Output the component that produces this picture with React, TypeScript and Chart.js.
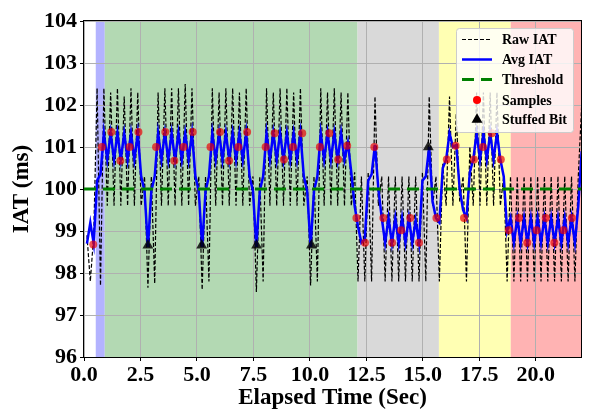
import React, { useEffect, useRef } from "react";
import { Chart, registerables } from "chart.js";

Chart.register(...registerables);

const FONT = '"Liberation Serif", "Times New Roman", Times, serif';
const W = 598;
const H = 414;

// sampling grid of the two traces (seconds)
const TRACE_T0 = 0.13;
const TRACE_DT = 0.15;

const RAW_IAT = [
  98.9, 97.8, 98.9, 102.4, 97.7, 102.4, 99.6, 102.3, 99.6, 102.4,
  99.6, 102.2, 99.6, 102.4, 99.6, 102.3, 99.6, 100.3, 97.65, 100.3,
  97.75, 102.3, 99.6, 102.4, 99.6, 102.4, 99.6, 102.4, 99.6, 102.5,
  99.6, 102.4, 99.6, 100.3, 97.6, 100.3, 97.8, 102.4, 99.6, 102.3,
  99.6, 102.4, 99.6, 102.4, 99.6, 102.3, 99.6, 102.4, 99.6, 100.3,
  97.55, 100.3, 97.8, 102.4, 99.6, 102.3, 99.6, 102.4, 99.6, 102.4,
  99.6, 102.3, 99.6, 102.4, 99.6, 100.3, 97.7, 100.3, 97.8, 102.4,
  99.6, 102.3, 99.6, 102.4, 99.6, 102.3, 99.6, 102.3, 99.6, 100.4,
  97.8, 100.3, 97.8, 100.4, 97.8, 102.2, 99.6, 100.3, 97.8, 100.3,
  97.8, 100.3, 97.8, 100.3, 97.8, 100.3, 97.8, 100.3, 97.8, 100.4,
  97.8, 102.2, 99.6, 100.3, 97.8, 100.6, 99.6, 102.2, 99.6, 101.8,
  99.7, 100.3, 97.8, 101.0, 99.6, 102.3, 99.6, 102.3, 99.6, 102.3,
  99.6, 102.3, 99.6, 100.3, 97.8, 100.3, 97.8, 100.3, 97.8, 100.3,
  97.8, 100.3, 97.8, 100.3, 97.8, 100.3, 97.8, 100.3, 97.8, 100.3,
  97.8, 100.3, 97.8, 100.3, 97.8, 100.3, 102.0,
];

const AVG_IAT = [
  98.7, 99.2, 98.7, 100.2, 100.35, 101.33, 100.7, 101.33, 100.7, 101.33,
  100.7, 101.33, 100.7, 101.33, 100.7, 101.33, 100.3, 99.95, 98.62, 99.95,
  100.3, 101.33, 100.7, 101.33, 100.7, 101.33, 100.7, 101.33, 100.7, 101.33,
  100.7, 101.33, 100.3, 99.95, 98.62, 99.95, 100.3, 101.33, 100.7, 101.33,
  100.7, 101.33, 100.7, 101.33, 100.7, 101.33, 100.7, 101.33, 100.3, 99.95,
  98.62, 99.95, 100.3, 101.33, 100.7, 101.33, 100.7, 101.33, 100.7, 101.33,
  100.7, 101.33, 100.7, 101.33, 100.3, 99.95, 98.62, 99.95, 100.3, 101.33,
  100.7, 101.33, 100.7, 101.33, 100.7, 101.33, 100.7, 101.1, 100.4, 99.6,
  99.1, 98.72, 98.8, 100.2, 100.35, 101.05, 100.0, 99.31, 98.72, 99.31,
  98.72, 99.31, 98.72, 99.31, 98.72, 99.31, 98.72, 99.25, 98.72, 100.2,
  100.3, 101.0, 99.7, 99.31, 99.2, 100.5, 100.7, 101.33, 101.0, 101.05,
  100.0, 99.5, 99.3, 100.4, 100.7, 101.33, 100.7, 101.33, 100.7, 101.33,
  100.7, 101.33, 100.7, 100.3, 99.0, 99.31, 98.72, 99.31, 98.72, 99.31,
  98.72, 99.31, 98.72, 99.31, 98.72, 99.31, 98.72, 99.31, 98.72, 99.31,
  98.72, 99.31, 98.72, 99.31, 98.72, 99.6, 100.9,
];

const THRESHOLD = 100;

const SAMPLE_T = [
  0.41, 0.79, 1.21, 1.61, 2.02, 2.41, 3.19, 3.6, 4.0, 4.4, 4.81, 5.6, 6.02,
  6.42, 6.83, 7.22, 8.04, 8.44, 8.85, 9.25, 9.66, 10.44, 10.86, 11.25, 11.65,
  12.06, 12.44, 12.85, 13.25, 13.64, 14.04, 14.44, 14.83, 15.6, 16.06, 16.45,
  16.82, 17.26, 17.66, 18.05, 18.45, 18.8, 19.25, 19.62, 20.03, 20.44, 20.82,
  21.22, 21.6,
];
const SAMPLE_V = [
  98.68, 101.0, 101.36, 100.67, 101.0, 101.36, 101.0, 101.36, 100.67, 101.0,
  101.36, 101.0, 101.36, 100.67, 101.0, 101.36, 101.0, 101.33, 100.7, 101.0,
  101.33, 101.0, 101.33, 100.7, 101.03, 99.31, 98.72, 101.0, 99.31, 98.72,
  99.02, 99.31, 98.72, 99.31, 100.7, 101.03, 99.31, 100.7, 101.0, 101.33,
  100.7, 99.02, 99.31, 98.72, 99.02, 99.31, 98.72, 99.02, 99.31,
];

const STUFFED_T = [2.83, 5.21, 7.64, 10.07, 15.24];
const STUFFED_V = [98.66, 98.66, 98.66, 98.66, 101.0];

const BAND_START = [0.52, 0.92, 12.11, 15.71, 18.89];
const BAND_END = [0.92, 12.11, 15.71, 18.89, 22];
const BAND_COLOR = ["#b3b3ff", "#b3d9b3", "#d9d9d9", "#ffffb3", "#ffb3b3"];

const X_MIN = 0;
const X_MAX = 22;
const X_STEP = 2.5;
const Y_MIN = 96;
const Y_MAX = 104;
const Y_STEP = 1;

const bandsPlugin = {
  id: "bands",
  beforeDraw(chart: any) {
    const { ctx, chartArea, scales } = chart;
    ctx.save();
    for (let i = 0; i < BAND_START.length; i++) {
      const x0 = scales.x.getPixelForValue(BAND_START[i]);
      const x1 = scales.x.getPixelForValue(BAND_END[i]);
      ctx.fillStyle = BAND_COLOR[i];
      ctx.fillRect(x0, chartArea.top, x1 - x0, chartArea.bottom - chartArea.top);
    }
    ctx.restore();
  },
};

const framePlugin = {
  id: "frame",
  afterDatasetsDraw(chart: any) {
    const { ctx, chartArea } = chart;
    ctx.save();
    ctx.strokeStyle = "#000";
    ctx.lineWidth = 1;
    ctx.setLineDash([]);
    ctx.strokeRect(
      Math.round(chartArea.left) - 0.5,
      Math.round(chartArea.top) - 0.5,
      Math.round(chartArea.right - chartArea.left) + 1,
      Math.round(chartArea.bottom - chartArea.top) + 1
    );
    ctx.restore();
  },
};

const legendPlugin = {
  id: "customLegend",
  afterDraw(chart: any) {
    const { ctx } = chart;
    const bx = 456.5, by = 28.5, bw = 117, bh = 104, r = 3;
    ctx.save();
    ctx.beginPath();
    ctx.moveTo(bx + r, by);
    ctx.lineTo(bx + bw - r, by);
    ctx.quadraticCurveTo(bx + bw, by, bx + bw, by + r);
    ctx.lineTo(bx + bw, by + bh - r);
    ctx.quadraticCurveTo(bx + bw, by + bh, bx + bw - r, by + bh);
    ctx.lineTo(bx + r, by + bh);
    ctx.quadraticCurveTo(bx, by + bh, bx, by + bh - r);
    ctx.lineTo(bx, by + r);
    ctx.quadraticCurveTo(bx, by, bx + r, by);
    ctx.closePath();
    ctx.fillStyle = "rgba(255,255,255,0.8)";
    ctx.fill();
    ctx.strokeStyle = "#cccccc";
    ctx.lineWidth = 1;
    ctx.stroke();

    const rows = [39.5, 59.5, 79.5, 100, 119.5];
    const lx0 = 462, lx1 = 492, mx = 477, tx = 502;
    chart.data.datasets.forEach((ds: any, i: number) => {
      const y = rows[i];
      if (ds.showLine === false) {
        ctx.fillStyle = ds.legendColor || ds.pointBackgroundColor;
        ctx.beginPath();
        if (ds.pointStyle === "triangle") {
          const rad = ds.pointRadius;
          for (let k = 0; k < 3; k++) {
            const a = (k * 2 * Math.PI) / 3;
            const px = mx + Math.sin(a) * rad;
            const py = y - Math.cos(a) * rad;
            if (k === 0) ctx.moveTo(px, py);
            else ctx.lineTo(px, py);
          }
          ctx.closePath();
        } else {
          ctx.arc(mx, y, ds.pointRadius, 0, Math.PI * 2);
        }
        ctx.fill();
      } else {
        ctx.beginPath();
        ctx.setLineDash(ds.borderDash || []);
        ctx.strokeStyle = ds.borderColor;
        ctx.lineWidth = ds.borderWidth;
        ctx.moveTo(lx0, y);
        ctx.lineTo(lx1, y);
        ctx.stroke();
        ctx.setLineDash([]);
      }
      ctx.fillStyle = "#000";
      ctx.font = `bold 14px ${FONT}`;
      ctx.textBaseline = "middle";
      ctx.textAlign = "left";
      ctx.fillText(ds.label, tx, y + 1);
    });
    ctx.restore();
  },
};

function trace(values: number[]) {
  return values.map((v, i) => ({ x: TRACE_T0 + i * TRACE_DT, y: v }));
}

export default function App() {
  const canvasRef = useRef<HTMLCanvasElement | null>(null);

  useEffect(() => {
    const canvas = canvasRef.current;
    if (!canvas) return;
    const tickFont = { family: FONT, size: 22, weight: "bold" as const };
    const titleFont = { family: FONT, size: 23, weight: "bold" as const };
    const chart = new Chart(canvas, {
      type: "line",
      data: {
        datasets: [
          {
            label: "Raw IAT",
            data: trace(RAW_IAT),
            borderColor: "#000000",
            borderWidth: 1.2,
            borderDash: [4, 2],
            pointRadius: 0,
            tension: 0,
            fill: false,
            order: 5,
          },
          {
            label: "Avg IAT",
            data: trace(AVG_IAT),
            borderColor: "#0000ff",
            borderWidth: 2.5,
            pointRadius: 0,
            tension: 0,
            fill: false,
            order: 4,
          },
          {
            label: "Threshold",
            data: [
              { x: X_MIN, y: THRESHOLD },
              { x: X_MAX, y: THRESHOLD },
            ],
            borderColor: "#008000",
            borderWidth: 3,
            borderDash: [12, 7],
            pointRadius: 0,
            fill: false,
            order: 3,
          },
          {
            label: "Samples",
            data: SAMPLE_T.map((t, i) => ({ x: t, y: SAMPLE_V[i] })),
            showLine: false,
            pointRadius: 4,
            pointStyle: "circle",
            pointBackgroundColor: "rgba(235,0,0,0.68)",
            legendColor: "#ff0000",
            pointBorderColor: "rgba(0,0,0,0)",
            pointBorderWidth: 0,
            order: 2,
          },
          {
            label: "Stuffed Bit",
            data: STUFFED_T.map((t, i) => ({ x: t, y: STUFFED_V[i] })),
            showLine: false,
            pointRadius: 6.3,
            pointStyle: "triangle",
            pointBackgroundColor: "rgba(0,0,0,0.82)",
            legendColor: "#000000",
            pointBorderColor: "rgba(0,0,0,0)",
            pointBorderWidth: 0,
            order: 1,
          },
        ] as any,
      },
      options: {
        animation: false,
        responsive: false,
        devicePixelRatio: 1,
        events: [],
        layout: { padding: { left: 0, right: 17, top: 21, bottom: 0 } },
        plugins: {
          legend: { display: false },
          tooltip: { enabled: false },
        },
        scales: {
          x: {
            type: "linear",
            min: X_MIN,
            max: X_MAX,
            afterBuildTicks: (scale: any) => {
              scale.ticks = scale.ticks.filter(
                (t: any) => Math.abs(t.value / X_STEP - Math.round(t.value / X_STEP)) < 1e-6
              );
            },
            afterFit: (scale: any) => {
              scale.height = 57;
            },
            ticks: {
              stepSize: X_STEP,
              color: "#000",
              font: tickFont,
              padding: 1,
              maxRotation: 0,
              autoSkip: false,
              callback: (v: any) => Number(v).toFixed(1),
            },
            grid: {
              color: "#b0b0b0",
              lineWidth: 1,
              tickColor: "#000",
              tickLength: 4,
              tickWidth: 1,
            },
            border: { display: false },
            title: {
              display: true,
              text: "Elapsed Time (Sec)",
              color: "#000",
              font: titleFont,
              padding: { top: 0, bottom: 2 },
            },
          },
          y: {
            type: "linear",
            min: Y_MIN,
            max: Y_MAX,
            afterFit: (scale: any) => {
              scale.width = 84;
            },
            ticks: {
              stepSize: Y_STEP,
              color: "#000",
              font: tickFont,
              padding: 3,
              callback: (v: any) => String(Math.round(Number(v))),
            },
            grid: {
              color: "#b0b0b0",
              lineWidth: 1,
              tickColor: "#000",
              tickLength: 4,
              tickWidth: 1,
            },
            border: { display: false },
            title: {
              display: true,
              text: "IAT (ms)",
              color: "#000",
              font: titleFont,
              padding: { top: 8, bottom: 0 },
            },
          },
        },
      } as any,
      plugins: [bandsPlugin, framePlugin, legendPlugin],
    });
    return () => chart.destroy();
  }, []);

  return (
    <div style={{ position: "fixed", left: 0, top: 0, width: W, height: H, background: "#fff" }}>
      <canvas ref={canvasRef} width={W} height={H} style={{ display: "block" }} />
    </div>
  );
}
